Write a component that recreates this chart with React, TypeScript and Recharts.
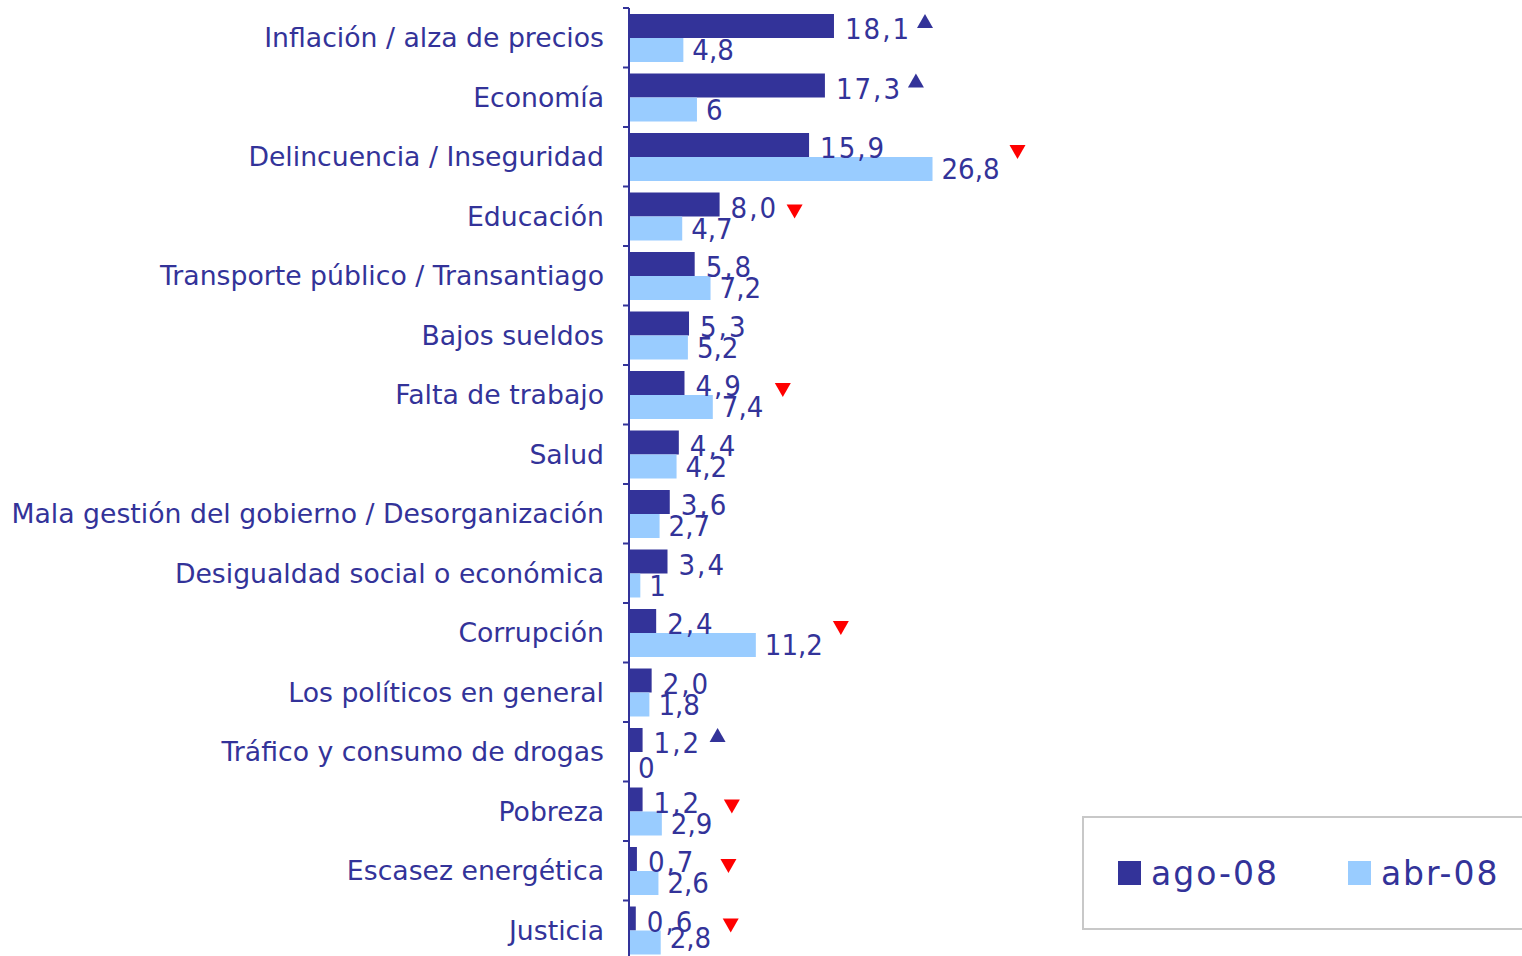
import React from "react";
import { BarChart, Bar, XAxis, YAxis, LabelList } from "recharts";

const categories = [
  "Inflación / alza de precios",
  "Economía",
  "Delincuencia / Inseguridad",
  "Educación",
  "Transporte público / Transantiago",
  "Bajos sueldos",
  "Falta de trabajo",
  "Salud",
  "Mala gestión del gobierno / Desorganización",
  "Desigualdad social o económica",
  "Corrupción",
  "Los políticos en general",
  "Tráfico y consumo de drogas",
  "Pobreza",
  "Escasez energética",
  "Justicia",
];
const ago08 = [18.1, 17.3, 15.9, 8.0, 5.8, 5.3, 4.9, 4.4, 3.6, 3.4, 2.4, 2.0, 1.2, 1.2, 0.7, 0.6];
const abr08 = [4.8, 6, 26.8, 4.7, 7.2, 5.2, 7.4, 4.2, 2.7, 1, 11.2, 1.8, 0, 2.9, 2.6, 2.8];
// significant change vs. previous survey
const trend = ["up", "up", "down", "down", "", "", "down", "", "", "", "down", "", "up", "down", "down", "down"];
const seriesNames = ["ago-08", "abr-08"];

const data = categories.map((name, i) => ({ name, ago: ago08[i], abr: abr08[i], trend: trend[i] }));

const NAVY = "#333399";
const LIGHT = "#99CCFF";
const FONT = "'DejaVu Sans', sans-serif";
const FONT_COND = "'DejaVu Sans Condensed', 'DejaVu Sans', sans-serif";
const TICK_GAP = 25;
const LABEL_MAX_Y = 938;

const fmtAgo = (v: number) => v.toFixed(1).replace(".", ",");
const fmtAbr = (v: number) => String(v).replace(".", ",");

function CategoryTick(props: any) {
  const { x, y, payload, index, visibleTicksCount } = props;
  const half = payload?.offset ?? 29.75;
  const ax = x + TICK_GAP;
  return (
    <g>
      <line x1={ax - 6} x2={ax} y1={y - half} y2={y - half} stroke={NAVY} strokeWidth={2} />
      {index === visibleTicksCount - 1 && (
        <line x1={ax - 6} x2={ax} y1={y + half} y2={y + half} stroke={NAVY} strokeWidth={2} />
      )}
      <text x={x} y={y} textAnchor="end" dominantBaseline="central" fill={NAVY} fontSize={26.7} fontFamily={FONT}>
        {payload.value}
      </text>
    </g>
  );
}

function AgoLabel(props: any) {
  const { x, y, width, height, value, index } = props;
  const d = data[index];
  const cy = y + height / 2;
  const perUnit = width / value;
  let marker = null;
  if (d.trend) {
    // rough end of the two value labels
    const agoEnd = x + d.ago * perUnit + 11 + fmtAgo(d.ago).length * 16;
    const abrEnd = x + d.abr * perUnit + 9 + fmtAbr(d.abr).length * 15;
    const tx = Math.max(agoEnd, abrEnd) + 16;
    if (d.trend === "up") {
      const ty = cy - 5;
      marker = <polygon points={`${tx - 8},${ty + 7} ${tx + 8},${ty + 7} ${tx},${ty - 7}`} fill={NAVY} />;
    } else {
      const ty = cy + 7;
      marker = <polygon points={`${tx - 8},${ty - 7} ${tx + 8},${ty - 7} ${tx},${ty + 7}`} fill="#FF0000" />;
    }
  }
  return (
    <g>
      <text x={x + width + 11} y={cy + 3} dominantBaseline="central" fill={NAVY} fontSize={29} fontFamily={FONT_COND} letterSpacing={2}>
        {fmtAgo(value)}
      </text>
      {d.abr === 0 && (
        <text x={x + 9} y={cy + height + 4} dominantBaseline="central" fill={NAVY} fontSize={29} fontFamily={FONT_COND}>
          0
        </text>
      )}
      {marker}
    </g>
  );
}

function AbrLabel(props: any) {
  const { x, y, width, height, value } = props;
  if (!value) return null;
  return (
    <text
      x={x + width + 9}
      y={Math.min(y + height / 2, LABEL_MAX_Y)}
      dominantBaseline="central"
      fill={NAVY}
      fontSize={29}
      fontFamily={FONT_COND}
    >
      {fmtAbr(value)}
    </text>
  );
}

export default function App() {
  return (
    <div style={{ width: 1522, height: 956, overflow: "hidden", position: "relative", background: "#fff" }}>
      <style>{`body{margin:0}`}</style>
      <BarChart
        width={1522}
        height={962}
        data={data}
        layout="vertical"
        margin={{ top: 8, right: 440, bottom: 2, left: 0 }}
        barCategoryGap={6}
        barGap={0}
      >
        <XAxis type="number" domain={[0, 40]} hide />
        <YAxis
          type="category"
          dataKey="name"
          width={629}
          interval={0}
          tickLine={false}
          tickSize={0}
          tickMargin={TICK_GAP}
          axisLine={{ stroke: NAVY, strokeWidth: 2 }}
          tick={<CategoryTick />}
        />
        <Bar dataKey="ago" name={seriesNames[0]} fill={NAVY} isAnimationActive={false}>
          <LabelList dataKey="ago" content={<AgoLabel />} />
        </Bar>
        <Bar dataKey="abr" name={seriesNames[1]} fill={LIGHT} isAnimationActive={false}>
          <LabelList dataKey="abr" content={<AbrLabel />} />
        </Bar>
      </BarChart>
      <div
        style={{
          position: "absolute",
          left: 1082,
          top: 816,
          width: 480,
          height: 110,
          border: "2px solid #c8c8c8",
          display: "flex",
          alignItems: "center",
          paddingLeft: 34,
          fontFamily: FONT,
          fontSize: 33,
          letterSpacing: 2,
          color: NAVY,
        }}
      >
        <span style={{ width: 23, height: 24, background: NAVY, marginRight: 10, display: "inline-block" }} />
        <span style={{ marginRight: 69 }}>{seriesNames[0]}</span>
        <span style={{ width: 23, height: 24, background: LIGHT, marginRight: 10, display: "inline-block" }} />
        <span>{seriesNames[1]}</span>
      </div>
    </div>
  );
}
